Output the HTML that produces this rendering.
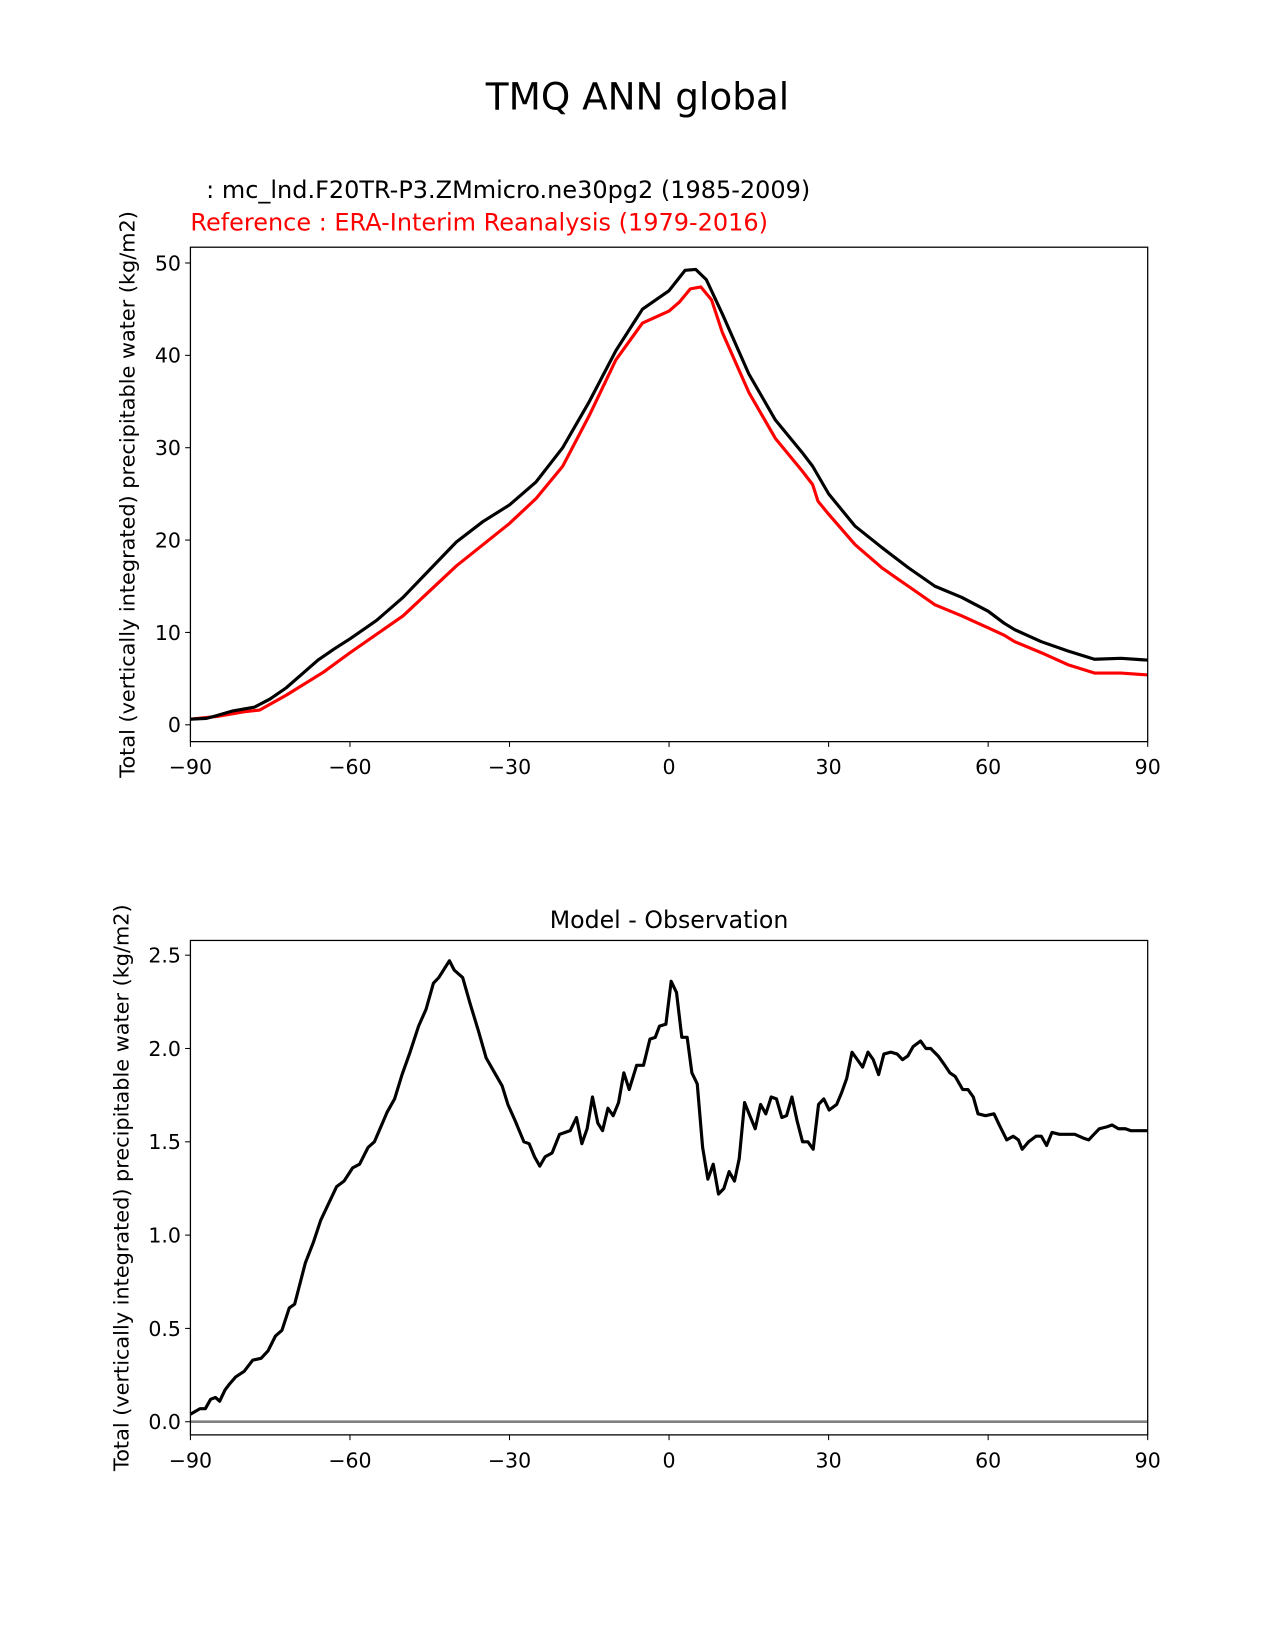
<!DOCTYPE html>
<html><head><meta charset="utf-8"><style>
html,body{margin:0;padding:0;background:#fff;}
svg{display:block;font-family:"Liberation Sans","DejaVu Sans",sans-serif;}
</style></head><body>
<svg id="fig" width="1275" height="1650" viewBox="0 0 1212 1568.5" xmlns="http://www.w3.org/2000/svg">
<rect width="1212" height="1568.5" fill="#fff"/>
<text x="606" y="104" font-size="35.5" text-anchor="middle" font-family="DejaVu Sans, sans-serif">TMQ ANN global</text>
<text x="196" y="188" font-size="22.8" font-family="DejaVu Sans, sans-serif">: mc_lnd.F20TR-P3.ZMmicro.ne30pg2 (1985-2009)</text>
<text x="181" y="219" font-size="22.8" fill="#ff0000" font-family="DejaVu Sans, sans-serif">Reference : ERA-Interim Reanalysis (1979-2016)</text>
<text x="636" y="882" font-size="22.5" text-anchor="middle" font-family="DejaVu Sans, sans-serif">Model - Observation</text>
<g id="top"></g><g id="bot"></g>
</svg>
<script>
const NS="http://www.w3.org/2000/svg";
const latTicks=[-90,-60,-30,0,30,60,90];
const topYTicks=[0,10,20,30,40,50];
const botYTicks=[0.0,0.5,1.0,1.5,2.0,2.5];
const modelLat=[-90,-87,-85,-82,-78,-75,-72,-69,-66,-63,-60,-55,-50,-45,-40,-35,-30,-25,-20,-15,-10,-5,0,3,5,7,10,15,20,25,27,30,35,40,45,50,55,60,63,65,70,75,80,85,90];
const modelVal=[0.6,0.7,1.0,1.5,1.9,2.8,4.0,5.5,7.0,8.2,9.3,11.3,13.8,16.8,19.8,22.0,23.8,26.3,30.0,35.0,40.5,45.0,47.0,49.2,49.3,48.2,44.5,38.0,33.0,29.5,28.0,25.0,21.5,19.2,17.0,15.0,13.8,12.3,11.0,10.3,9.0,8.0,7.1,7.2,7.0];
const obsLat=[-90,-85,-80,-77,-72,-65,-60,-50,-40,-30,-25,-20,-15,-10,-5,0,2,4,6,8,10,15,20,25,27,28,30,35,40,43,45,50,55,60,63,65,70,75,80,85,90];
const obsVal=[0.6,0.9,1.4,1.6,3.2,5.7,7.8,11.8,17.2,21.8,24.5,28.0,33.5,39.5,43.5,44.8,45.8,47.2,47.4,46.0,42.5,36.0,31.0,27.5,26.0,24.2,22.8,19.5,17.0,15.8,15.0,13.0,11.8,10.5,9.7,9.0,7.8,6.5,5.6,5.6,5.4];
const diffLat=[-90,-88.2,-87.2,-86.2,-85.3,-84.5,-83.5,-82.7,-81.5,-79.9,-78.3,-76.7,-75.4,-74,-72.8,-71.4,-70.4,-68.4,-66.9,-65.5,-62.5,-61.1,-59.5,-58.2,-56.6,-55.4,-53,-51.6,-50.2,-48.7,-47.1,-45.7,-44.3,-43.3,-41.3,-40.4,-38.8,-37.4,-35.8,-34.4,-32.8,-31.4,-30.3,-28.9,-27.3,-26.3,-25.3,-24.3,-23.3,-22,-20.6,-18.6,-17.4,-16.4,-15.4,-14.4,-13.4,-12.5,-11.5,-10.5,-9.5,-8.5,-7.5,-6.1,-4.8,-3.6,-2.6,-1.8,-0.6,0.4,1.4,2.4,3.4,4.3,5.3,6.3,7.3,8.3,9.3,10.3,11.3,12.3,13.2,14.2,15.2,16.2,17.2,18.2,19.2,20.2,21.2,22.1,23.1,24.1,25.1,26.1,27.1,28.1,29.1,30.1,31.5,32.4,33.4,34.4,35.4,36.4,37.4,38.4,39.4,40.4,41.7,42.9,43.9,44.9,45.9,47.3,48.3,49.2,50.6,51.6,52.8,53.8,55.2,56.2,57.2,58.1,59.5,61.1,62.1,63.5,64.7,65.7,66.4,67.6,69,70,71,72,73.4,75,76.3,77.9,78.9,79.9,80.9,82.3,83.3,84.5,85.8,86.8,87.8,90];
const diffVal=[0.04,0.07,0.07,0.12,0.13,0.11,0.17,0.2,0.24,0.27,0.33,0.34,0.38,0.46,0.49,0.61,0.63,0.85,0.96,1.08,1.26,1.29,1.36,1.38,1.47,1.50,1.66,1.73,1.86,1.98,2.12,2.21,2.35,2.38,2.47,2.42,2.38,2.24,2.09,1.95,1.87,1.80,1.70,1.61,1.50,1.49,1.42,1.37,1.42,1.44,1.54,1.56,1.63,1.49,1.57,1.74,1.60,1.56,1.68,1.64,1.71,1.87,1.78,1.91,1.91,2.05,2.06,2.12,2.13,2.36,2.30,2.06,2.06,1.87,1.81,1.47,1.30,1.38,1.22,1.25,1.34,1.29,1.41,1.71,1.64,1.57,1.70,1.65,1.74,1.73,1.63,1.64,1.74,1.61,1.50,1.50,1.46,1.70,1.73,1.67,1.70,1.76,1.84,1.98,1.94,1.90,1.98,1.94,1.86,1.97,1.98,1.97,1.94,1.96,2.01,2.04,2.00,2.00,1.96,1.92,1.87,1.85,1.78,1.78,1.74,1.65,1.64,1.65,1.59,1.51,1.53,1.51,1.46,1.50,1.53,1.53,1.48,1.55,1.54,1.54,1.54,1.52,1.51,1.54,1.57,1.58,1.59,1.57,1.57,1.56,1.56,1.56];

function mk(parent,tag,attrs){const e=document.createElementNS(NS,tag);for(const k in attrs)e.setAttribute(k,attrs[k]);parent.appendChild(e);return e;}
const X0=181,X1=1091;
function xs(v){return X0+(v+90)/180*(X1-X0);}
function line(g,lat,val,ys,color,w,name){
  const d=lat.map((x,i)=>(i?'L':'M')+xs(x).toFixed(1)+' '+ys(val[i]).toFixed(1)).join(' ');
  const p=mk(g,'path',{d:d,fill:'none',stroke:color,'stroke-width':w,'stroke-linejoin':'round'});
  
  
}
function axes(g,prefix,top,bottom,ys,yticks,fmt,labX){
  latTicks.forEach(t=>{
    const l=mk(g,'line',{x1:xs(t),x2:xs(t),y1:bottom,y2:bottom+5,stroke:'#000'});
    
    
    const tx=mk(g,'text',{x:xs(t),y:bottom+31,'font-size':19.5,'text-anchor':'middle','font-family':'DejaVu Sans, sans-serif'});
    tx.textContent=(t<0?'\u2212'+(-t):String(t));
    
    
  });
  yticks.forEach(t=>{
    const y=ys(t);
    const l=mk(g,'line',{x1:176,x2:181,y1:y,y2:y,stroke:'#000'});
    
    
    const tx=mk(g,'text',{x:172,y:y+7,'font-size':19.5,'text-anchor':'end','font-family':'DejaVu Sans, sans-serif'});
    tx.textContent=fmt(t);
    
    
  });
  const yl=mk(g,'text',{x:0,y:0,'font-size':19.8,'text-anchor':'middle','font-family':'DejaVu Sans, sans-serif',transform:`translate(${labX},${(top+bottom)/2}) rotate(-90)`});
  yl.textContent='Total (vertically integrated) precipitable water (kg/m2)';
  
  
}
const gt=document.getElementById('top');
const ysT=v=>689-v/50*439;
axes(gt,'top',235,705,ysT,topYTicks,t=>String(t),128);
line(gt,obsLat,obsVal,ysT,'#ff0000',3,'reference-line');
line(gt,modelLat,modelVal,ysT,'#000',3,'model-line');
(function(){const r=mk(gt,'rect',{x:181,y:235,width:910,height:470,fill:'none',stroke:'#000','stroke-width':1.2});

})();

const gb=document.getElementById('bot');
const ysB=v=>1351.5-v/2.5*443.5;
axes(gb,'bottom',894,1364,ysB,botYTicks,t=>t.toFixed(1),122);
(function(){const z=mk(gb,'line',{x1:181,x2:1091,y1:ysB(0),y2:ysB(0),stroke:'#808080','stroke-width':2.5});

})();
line(gb,diffLat,diffVal,ysB,'#000',3,'difference-line');
(function(){const r=mk(gb,'rect',{x:181,y:894,width:910,height:470,fill:'none',stroke:'#000','stroke-width':1.2});

})();
</script>
</body></html>
